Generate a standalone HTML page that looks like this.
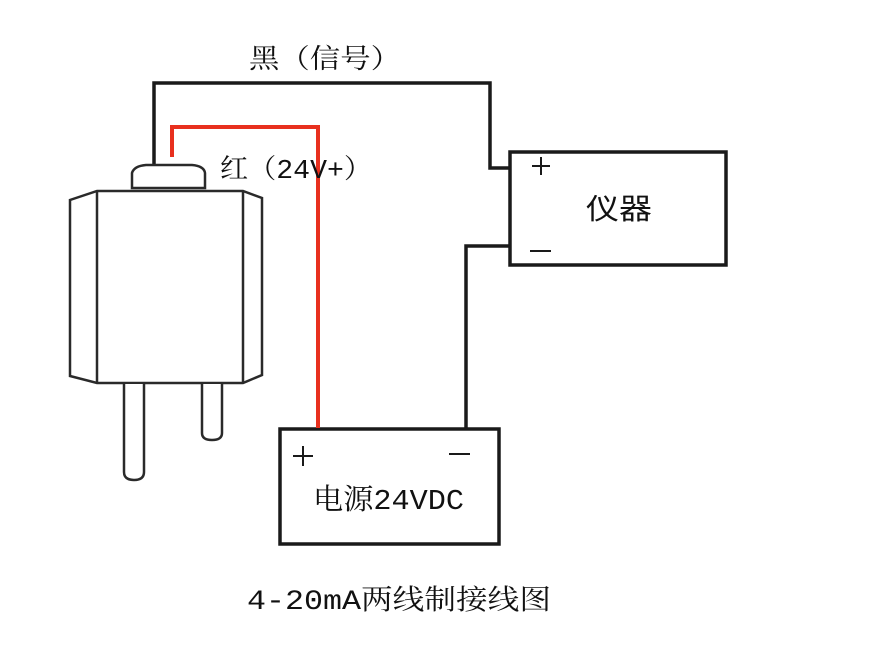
<!DOCTYPE html>
<html><head><meta charset="utf-8"><style>
html,body{margin:0;padding:0;background:#fff;width:880px;height:658px;overflow:hidden}
svg{display:block}
text{font-family:"Liberation Mono","Noto Serif CJK SC",serif;fill:#111}
</style></head><body>
<svg width="880" height="658" viewBox="0 0 880 658">
<g fill="none" stroke="#1a1a1a" stroke-width="3.5">
<polyline points="154,166 154,83 490,83 490,168 510,168"/>
<polyline points="510,246 466,246 466,428"/>
<rect x="510" y="152" width="216" height="113"/>
<rect x="280" y="429" width="219" height="115"/>
</g>
<polyline points="172,157 172,127 318,127 318,428" fill="none" stroke="#e8301e" stroke-width="4"/>
<g fill="#fff" stroke="#2a2a2a" stroke-width="2.5">
<path d="M132,188 L132,173 Q134,166 146,165 L192,165 Q204,166 205,173 L205,188 Z"/>
<path d="M97,191 L243,191 L262,198 L262,375 L243,383 L97,383 L70,376 L70,200 Z"/>
<line x1="97" y1="191" x2="97" y2="383"/>
<line x1="243" y1="191" x2="243" y2="383"/>
<path d="M124,384 L124,472 Q124,480 134,480 Q144,480 144,472 L144,384"/>
<path d="M202,384 L202,433 Q202,440 212,440 Q222,440 222,433 L222,384"/>
</g>
<g stroke="#1a1a1a" stroke-width="2">
<line x1="532" y1="166" x2="550" y2="166"/><line x1="541" y1="157" x2="541" y2="175"/>
<line x1="530" y1="251" x2="551" y2="251"/>
<line x1="293" y1="456" x2="313" y2="456"/><line x1="303" y1="446" x2="303" y2="466"/>
<line x1="449" y1="454" x2="470" y2="454"/>
</g>
<text x="249" y="68" font-size="27" textLength="152" lengthAdjust="spacingAndGlyphs">黑（信号）</text>
<text x="220" y="178" font-size="27" textLength="152" lengthAdjust="spacingAndGlyphs">红（24V+）</text>
<text x="586" y="219" font-size="29" textLength="66" lengthAdjust="spacingAndGlyphs" style="font-family:'Liberation Sans','Noto Sans CJK SC',sans-serif">仪器</text>
<text x="313" y="509" font-size="29" textLength="151" lengthAdjust="spacingAndGlyphs">电源24VDC</text>
<text x="247" y="609" font-size="28" textLength="304" lengthAdjust="spacingAndGlyphs">4-20mA两线制接线图</text>
</svg>
</body></html>
